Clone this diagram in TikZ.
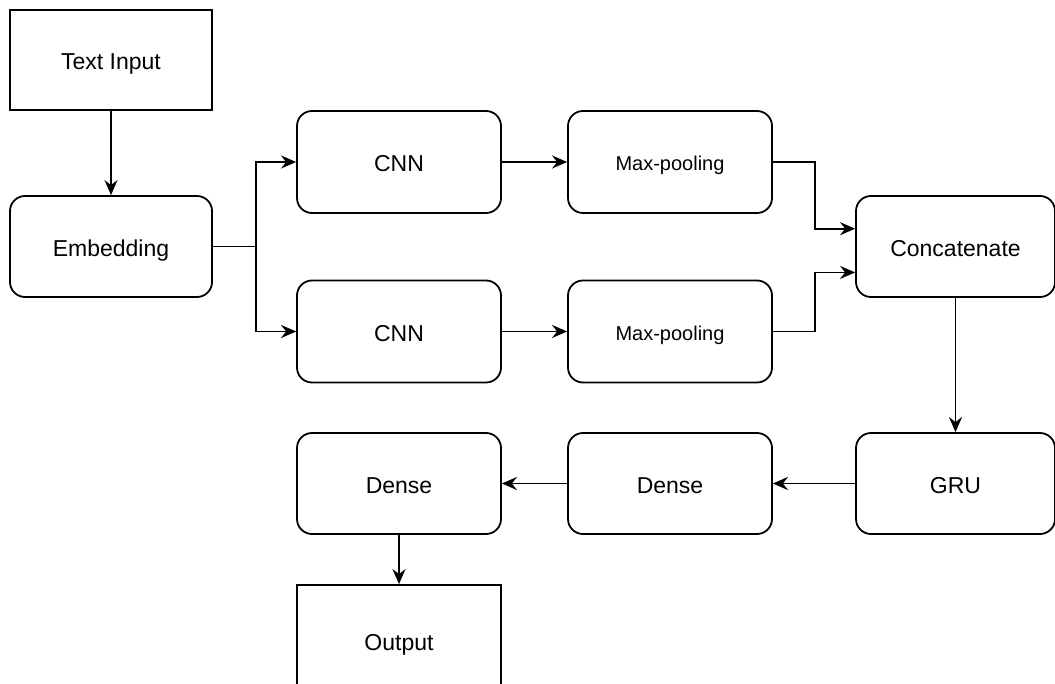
\documentclass[tikz,border=0pt]{standalone}
\usepackage{fontspec}
\setmainfont{Liberation Sans}
\usetikzlibrary{arrows.meta,calc}
\begin{document}
\begin{tikzpicture}[x=1pt,y=-1pt,
  blk/.style={draw=black,line width=1.8pt,rounded corners=15pt,inner sep=0pt,
    minimum width=204pt,minimum height=102pt,font=\fontsize{23}{27}\selectfont,
    text height=20pt,text depth=0pt},
  sqb/.style={blk,rounded corners=0pt},
  small/.style={font=\fontsize{20}{24}\selectfont,text height=17.4pt},
  arr/.style={line width=1.8pt,-{Stealth[length=15pt,width=13pt,inset=5pt]}}]
\clip (0,0) rectangle (1055,684);
\node[sqb,minimum width=202pt,minimum height=100pt] (ti) at (111,60) {Text Input};
\node[blk,minimum width=202pt,minimum height=101pt] (emb) at (111,246.5) {Embedding};
\node[blk] (cnn1) at (399,162) {CNN};
\node[blk,small] (mp1) at (670,162) {Max-pooling};
\node[blk] (cnn2) at (399,331.5) {CNN};
\node[blk,small] (mp2) at (670,331.5) {Max-pooling};
\node[blk,minimum width=199pt,minimum height=101pt] (cat) at (955.5,246.5) {Concatenate};
\node[blk,minimum width=199pt,minimum height=101pt] (gru) at (955.5,483.5) {GRU};
\node[blk,minimum height=101pt] (d2) at (670,483.5) {Dense};
\node[blk,minimum height=101pt] (d1) at (399,483.5) {Dense};
\node[sqb,minimum height=110pt] (out) at (399,640) {Output};
\draw[arr] (ti.south) -- (emb.north);
\draw[arr] (emb.east) -- ++(43,0) |- (cnn1.west);
\draw[arr] (emb.east) -- ++(43,0) |- (cnn2.west);
\draw[arr] (cnn1.east) -- (mp1.west);
\draw[arr] (cnn2.east) -- (mp2.west);
\draw[arr] (mp1.east) -- ++(42,0) |- ($(cat.north west)!0.327!(cat.south west)$);
\draw[arr] (mp2.east) -- ++(42,0) |- ($(cat.north west)!0.752!(cat.south west)$);
\draw[arr] (cat.south) -- (gru.north);
\draw[arr] (gru.west) -- (d2.east);
\draw[arr] (d2.west) -- (d1.east);
\draw[arr] (d1.south) -- (out.north);
\end{tikzpicture}
\end{document}
